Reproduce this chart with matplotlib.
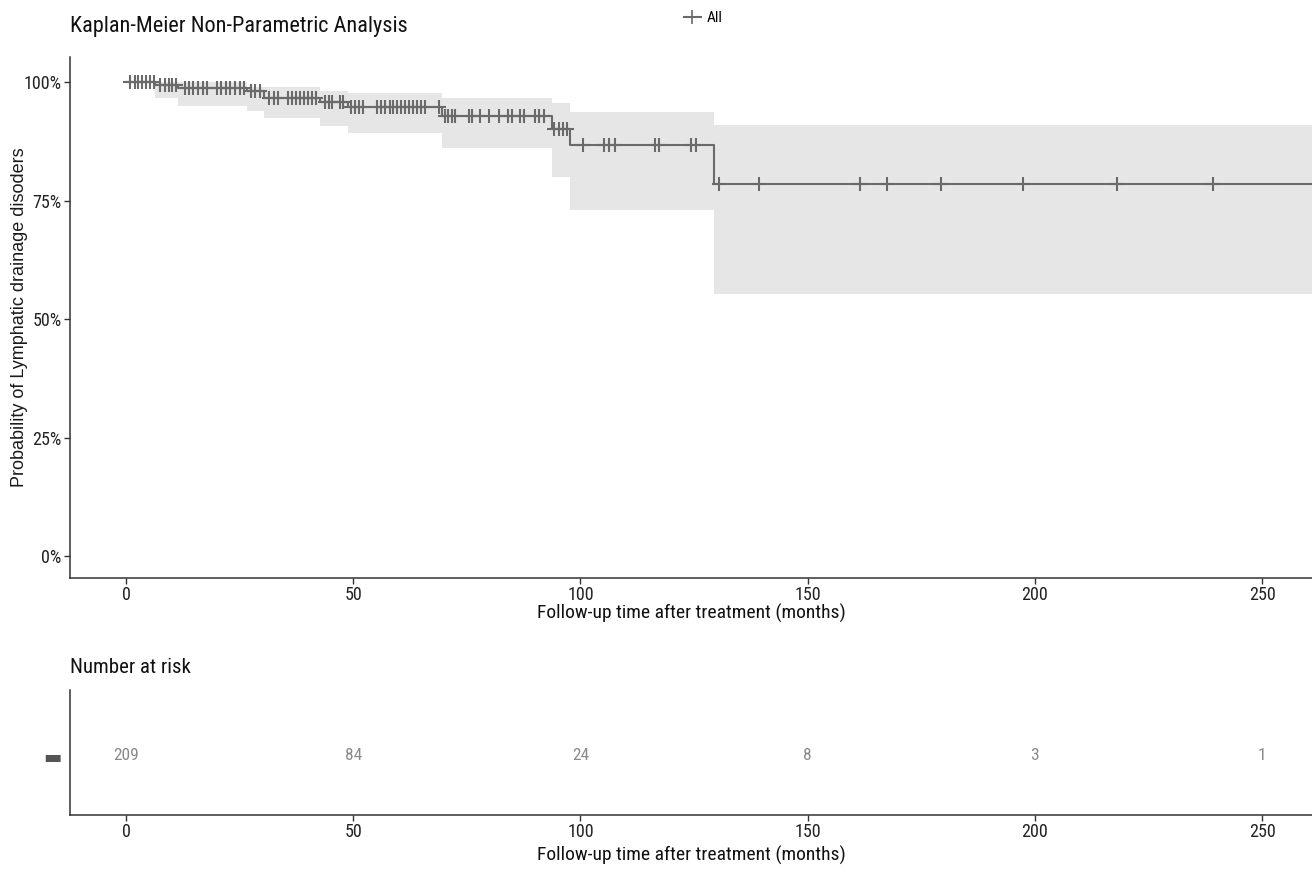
import numpy as np
import matplotlib
matplotlib.use("Agg")
import matplotlib.pyplot as plt
from matplotlib.ticker import FuncFormatter

narrow = ['Liberation Sans Narrow', 'Arial Narrow', 'Roboto Condensed', 'Archivo Narrow',
          'PT Sans Narrow', 'Liberation Sans', 'DejaVu Sans']
plt.rcParams['font.family'] = narrow

# step function of the Kaplan-Meier estimate (months, survival)
step_t = [0, 6.4, 11.5, 26.6, 30.4, 42.6, 48.8, 69.6, 93.7, 97.8, 129.5]
surv = [1.0, 0.995, 0.989, 0.982, 0.968, 0.959, 0.948, 0.930, 0.902, 0.867, 0.786]
upper = [1.0, 1.0, 1.0, 0.990, 0.990, 0.983, 0.978, 0.968, 0.956, 0.937, 0.910]
lower = [1.0, 0.968, 0.950, 0.939, 0.925, 0.909, 0.893, 0.862, 0.800, 0.731, 0.553]
last_t = 262

# censored observations
cens_t = [1.0, 1.9, 2.7, 3.6, 4.5, 5.4, 6.1,
          7.6, 8.5, 9.4, 10.2, 11.1,
          12.9, 13.9, 14.8, 15.8, 16.9, 17.9, 20.0, 21.0, 22.0, 23.0, 24.1, 25.1, 26.0,
          27.5, 28.5, 29.5,
          31.5, 32.5, 33.5, 35.6, 36.5, 37.4, 38.2, 39.1, 40.0, 40.9, 41.8,
          43.7, 44.6, 45.3, 47.0, 47.7,
          49.6, 50.4, 51.3, 52.2, 55.3, 56.2, 57.1, 58.0, 58.8, 59.7, 60.6, 61.4, 62.3,
          63.2, 64.1, 65.0, 65.9, 68.8,
          70.2, 70.9, 71.7, 72.4, 75.4, 76.2, 77.9, 79.9, 82.0, 84.0, 84.9, 86.7, 87.7,
          90.1, 90.9, 91.9,
          94.3, 95.2, 96.1, 97.1,
          100.5, 105.3, 106.2, 107.6, 116.5, 117.4, 124.4, 125.4,
          130.6, 139.4, 161.5, 167.4, 179.3, 197.4, 218.1, 239.2]

risk_t = [0, 50, 100, 150, 200, 250]
risk_n = [209, 84, 24, 8, 3, 1]

line_col = '#6a6a6a'
band_col = '#e6e6e6'
axis_col = '#333333'

fig = plt.figure(figsize=(13.12, 8.69), dpi=100)
ax = fig.add_axes([0.0534, 0.335, 0.9466, 0.599])

t_all = step_t + [last_t]
ax.fill_between(t_all, upper + [upper[-1]], lower + [lower[-1]], step='post',
                color=band_col, lw=0)
ax.step(t_all, surv + [surv[-1]], where='post', color=line_col, lw=1.5)
idx = np.searchsorted(step_t, cens_t, side='right') - 1
ax.plot(cens_t, np.array(surv)[idx], ls='none', marker='+', ms=10, mew=1.5,
        color=line_col)

ax.set_xlim(-12.3, 261)
ax.set_ylim(-0.046, 1.053)
ax.set_xticks(risk_t)
ax.set_yticks([0, 0.25, 0.5, 0.75, 1.0])
ax.yaxis.set_major_formatter(FuncFormatter(lambda v, p: '%d%%' % round(v * 100)))
for s in ['top', 'right']:
    ax.spines[s].set_visible(False)
for s in ['left', 'bottom']:
    ax.spines[s].set_color(axis_col)
    ax.spines[s].set_linewidth(1.1)
ax.tick_params(colors=axis_col, labelcolor='#222222', labelsize=13, length=4, width=1,
               pad=2)
ax.set_xlabel('Follow-up time after treatment (months)', fontsize=14, color='#111111',
              labelpad=0)
ax.set_ylabel('Probability of Lymphatic drainage disoders', fontsize=13,
              fontfamily=['Liberation Sans', 'DejaVu Sans'], color='#1a1a1a')
ax.yaxis.set_label_coords(-0.034, 0.5)
ax.set_title('Kaplan-Meier Non-Parametric Analysis', loc='left', fontsize=16,
             color='#111111', x=0, pad=18)

ax.plot([], [], ls='-', marker='+', ms=10, mew=1.2, color=line_col, label='All')
ax.legend(loc='upper center', bbox_to_anchor=(0.51, 1.115), frameon=False,
          fontsize=11, handlelength=1.1, handletextpad=0.4)

# number at risk table
rax = fig.add_axes([0.0534, 0.062, 0.9466, 0.144])
for t, n in zip(risk_t, risk_n):
    rax.text(t, 0, str(n), ha='center', va='center', fontsize=12.5, color='#8a8a8a')
rax.set_xlim(-12.3, 261)
rax.set_ylim(-0.96, 1.04)
rax.set_xticks(risk_t)
rax.set_yticks([0])
rax.set_yticklabels(['\u25ac'], fontfamily=['DejaVu Sans'], fontsize=14, color='#555555')
for s in ['top', 'right']:
    rax.spines[s].set_visible(False)
for s in ['left', 'bottom']:
    rax.spines[s].set_color(axis_col)
    rax.spines[s].set_linewidth(1.1)
rax.tick_params(axis='x', colors=axis_col, labelcolor='#222222', labelsize=13,
                length=4, width=1, pad=2)
rax.tick_params(axis='y', length=0, pad=6)
rax.set_xlabel('Follow-up time after treatment (months)', fontsize=14, color='#111111',
               labelpad=3)
rax.set_title('Number at risk', loc='left', fontsize=15, color='#111111', x=0, pad=12)

fig.savefig('out.png', dpi=100)
